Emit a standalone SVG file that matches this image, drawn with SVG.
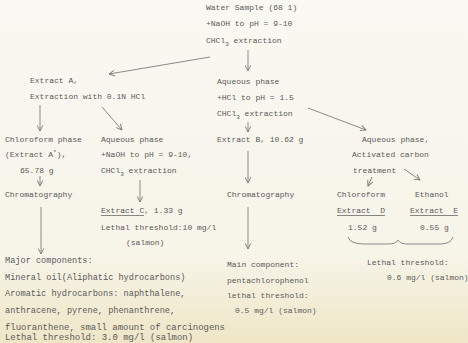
<svg xmlns="http://www.w3.org/2000/svg" width="468" height="343" viewBox="0 0 468 343">
<defs>
<linearGradient id="bg" x1="0" y1="0" x2="0" y2="1">
<stop offset="0" stop-color="#f9f8f2"/>
<stop offset="0.75" stop-color="#f7f4e8"/>
<stop offset="1" stop-color="#efe6c6"/>
</linearGradient>
<marker id="ah" viewBox="0 0 10 10" refX="9" refY="5" markerWidth="7" markerHeight="7" orient="auto" markerUnits="userSpaceOnUse">
<polyline points="1,1 9,5 1,9" fill="none" stroke="#777" stroke-width="1.3"/>
</marker>
<style>
text{font-family:"Liberation Mono","DejaVu Sans Mono",monospace;font-size:8px;fill:#5a5a5a;white-space:pre}
.big{font-size:8.6px}
.sub{font-size:6px}
.ln{stroke:#8a8a8a;stroke-width:1;fill:none}
.ul{stroke:#6a6a6a;stroke-width:0.8}
</style>
</defs>
<rect width="468" height="343" fill="url(#bg)"/>

<g id="connectors">
<line class="ln" x1="210" y1="57" x2="109" y2="74" marker-end="url(#ah)"/>
<line class="ln" x1="248" y1="50" x2="248" y2="71" marker-end="url(#ah)"/>
<line class="ln" x1="40" y1="105" x2="40" y2="131" marker-end="url(#ah)"/>
<line class="ln" x1="102" y1="107" x2="122" y2="130" marker-end="url(#ah)"/>
<line class="ln" x1="248" y1="122" x2="248" y2="132" marker-end="url(#ah)"/>
<line class="ln" x1="308" y1="108" x2="366" y2="130" marker-end="url(#ah)"/>
<line class="ln" x1="40" y1="176" x2="40" y2="186" marker-end="url(#ah)"/>
<line class="ln" x1="140" y1="180" x2="140" y2="202" marker-end="url(#ah)"/>
<line class="ln" x1="41" y1="207" x2="41" y2="254" marker-end="url(#ah)"/>
<line class="ln" x1="248" y1="151" x2="248" y2="183" marker-end="url(#ah)"/>
<line class="ln" x1="248" y1="207" x2="248" y2="249" marker-end="url(#ah)"/>
<line class="ln" x1="372" y1="177" x2="368" y2="186" marker-end="url(#ah)"/>
<line class="ln" x1="404" y1="169" x2="420" y2="180" marker-end="url(#ah)"/>
<path class="ln" d="M348,237 Q350,244 364,244 L388,244 Q396,244 398,240 Q400,244 408,244 L440,244 Q451,244 453,237"/>
</g>

<g id="water-sample">
<text x="206" y="10">Water Sample (68 1)</text>
<text x="206" y="26">+NaOH to pH = 9-10</text>
<text x="206" y="43">CHCl<tspan class="sub" dy="3">3</tspan><tspan dy="-3"> extraction</tspan></text>
</g>

<g id="extract-a">
<text x="30" y="83">Extract A,</text>
<text x="30" y="99">Extraction with 0.1N HCl</text>
</g>

<g id="aqueous-b">
<text x="217" y="84">Aqueous phase</text>
<text x="217" y="100">+HCl to pH = 1.5</text>
<text x="217" y="116">CHCl<tspan class="sub" dy="3">3</tspan><tspan dy="-3"> extraction</tspan></text>
</g>

<g id="chloroform-phase">
<text x="5" y="142">Chloroform phase</text>
<text x="5" y="157">(Extract A<tspan class="sub" dy="-3">*</tspan><tspan dy="3">),</tspan></text>
<text x="20" y="173">65.78 g</text>
</g>

<g id="chromatography-a">
<text x="5" y="197">Chromatography</text>
</g>

<g id="aqueous-c">
<text x="101" y="142">Aqueous phase</text>
<text x="101" y="157">+NaOH to pH = 9-10,</text>
<text x="101" y="173">CHCl<tspan class="sub" dy="3">3</tspan><tspan dy="-3"> extraction</tspan></text>
</g>

<g id="extract-c">
<text x="101" y="213">Extract C, 1.33 g</text>
<line class="ul" x1="101" y1="215.5" x2="144" y2="215.5"/>
<text x="101" y="230">Lethal threshold:10 mg/l</text>
<text x="126" y="245">(salmon)</text>
</g>

<g id="extract-b">
<text x="217" y="142">Extract B, 10.62 g</text>
</g>

<g id="chromatography-b">
<text x="227" y="197">Chromatography</text>
</g>

<g id="aqueous-d">
<text x="362" y="142">Aqueous phase,</text>
<text x="352" y="157">Activated carbon</text>
<text x="353" y="173">treatment</text>
</g>

<g id="extract-d">
<text x="337" y="197">Chloroform</text>
<text x="337" y="213">Extract  D</text>
<line class="ul" x1="337" y1="215.5" x2="385" y2="215.5"/>
<text x="348" y="230">1.52 g</text>
</g>

<g id="extract-e">
<text x="415" y="197">Ethanol</text>
<text x="410" y="213">Extract  E</text>
<line class="ul" x1="410" y1="215.5" x2="458" y2="215.5"/>
<text x="420" y="230">0.55 g</text>
</g>

<g id="major-components">
<text class="big" x="5" y="263">Major components:</text>
<text class="big" x="5" y="280">Mineral oil(Aliphatic hydrocarbons)</text>
<text class="big" x="5" y="296">Aromatic hydrocarbons: naphthalene,</text>
<text class="big" x="5" y="313">anthracene, pyrene, phenanthrene,</text>
<text class="big" x="5" y="330" textLength="220" lengthAdjust="spacingAndGlyphs">fluoranthene, small amount of carcinogens</text>
<text class="big" x="5" y="340" textLength="188" lengthAdjust="spacingAndGlyphs">Lethal threshold: 3.0 mg/l (salmon)</text>
</g>

<g id="main-component">
<text x="227" y="267">Main component:</text>
<text x="227" y="283">pentachlorophenol</text>
<text x="227" y="298">lethal threshold:</text>
<text x="235" y="313">0.5 mg/l (salmon)</text>
</g>

<g id="lethal-de">
<text x="367" y="265">Lethal threshold:</text>
<text x="387" y="280">0.6 mg/l (salmon)</text>
</g>
</svg>
